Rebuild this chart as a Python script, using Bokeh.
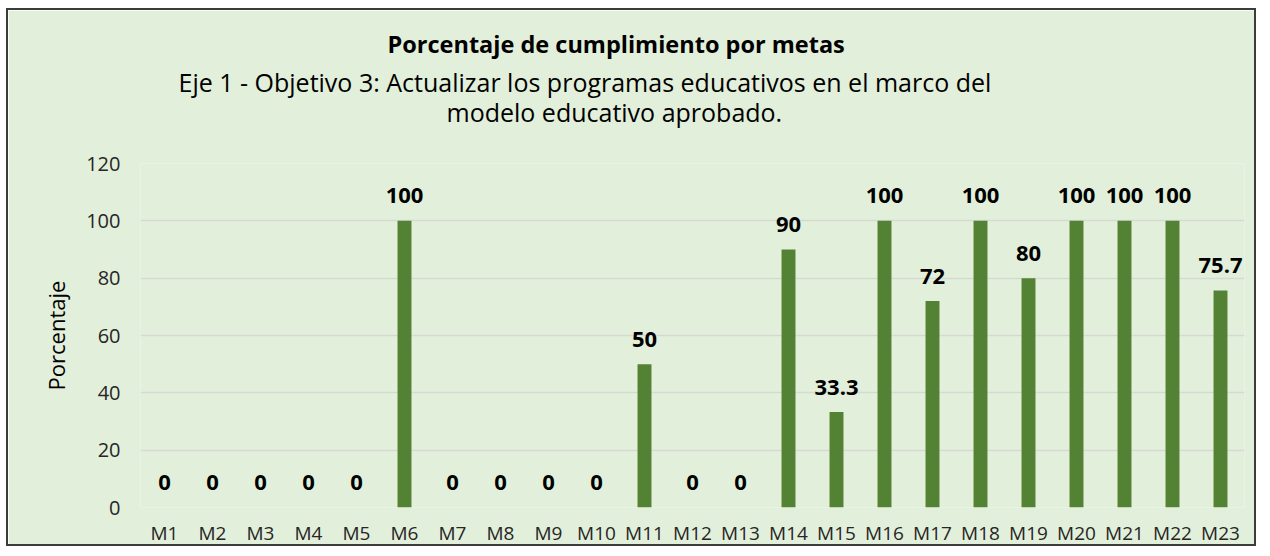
from bokeh.plotting import figure
from bokeh.models import ColumnDataSource, Title, FactorRange
from bokeh.embed import file_html
from bokeh.resources import INLINE
from bokeh.core.properties import value

categories = ["M%d" % i for i in range(1, 24)]
values = [0, 0, 0, 0, 0, 100, 0, 0, 0, 0, 50, 0, 0, 90, 33.3, 100, 72, 100, 80, 100, 100, 100, 75.7]
labels = [("%d" % v) if float(v).is_integer() else ("%.1f" % v) for v in values]
y_ticks = [0, 20, 40, 60, 80, 100, 120]

FONT = "Open Sans"
BG = "#E2EFDA"

src = ColumnDataSource(dict(cat=categories, val=values, lab=labels))

p = figure(x_range=FactorRange(*categories, range_padding=0), y_range=(0, 120),
           width=1250, height=538, output_backend="svg", toolbar_location=None,
           min_border_left=132, min_border_right=14, min_border_top=153, min_border_bottom=41)
p.styles = {"border": "2px solid #3c3c3c", "margin-left": "6px", "margin-top": "8px"}
p.background_fill_color = BG
p.border_fill_color = BG
p.outline_line_color = None

p.vbar(x="cat", top="val", width=0.29, source=src, color="#548235", line_color=None)
p.text(x="cat", y="val", text="lab", source=src, text_align="center", text_baseline="middle",
       y_offset=-25, text_font=value(FONT), text_font_style="bold", text_font_size="22px",
       text_color="#000000")

p.yaxis.ticker = y_ticks
p.ygrid.grid_line_color = "#D5D9D2"
p.ygrid.grid_line_width = 1.5
p.xgrid.grid_line_color = None
for ax in (p.xaxis, p.yaxis):
    ax.axis_line_color = None
    ax.major_tick_line_color = None
    ax.minor_tick_line_color = None
    ax.major_tick_out = 0
    ax.major_label_text_font = FONT
    ax.major_label_text_color = "#262626"
p.yaxis.major_label_text_font_size = "20px"
p.yaxis.major_label_standoff = 20
p.xaxis.major_label_text_font_size = "19px"
p.xaxis.major_label_standoff = 12
p.yaxis.axis_label = "Porcentaje"
p.yaxis.axis_label_text_font = FONT
p.yaxis.axis_label_text_font_size = "22px"
p.yaxis.axis_label_text_font_style = "normal"
p.yaxis.axis_label_text_color = "#000000"
p.yaxis.axis_label_standoff = 12

# spacer between frame and subtitle
p.add_layout(Title(text="\u00a0", text_font=FONT, text_font_size="20px", standoff=9,
                   text_color=BG), "above")

title_lines = [
    ("modelo educativo aprobado.", 306, "25px", -6, "normal"),
    ("Eje 1 - Objetivo 3: Actualizar los programas educativos en el marco del", 38, "25px", -6, "normal"),
    ("Porcentaje de cumplimiento por metas", 247, "23.5px", 11, "bold"),
]
for txt, off, sz, so, st in title_lines:
    p.add_layout(Title(text=txt, align="left", offset=off, text_font=FONT,
                       text_font_size=sz, text_font_style=st, text_color="#000000",
                       standoff=so), "above")

open("out.html", "w").write(file_html(p, INLINE))
